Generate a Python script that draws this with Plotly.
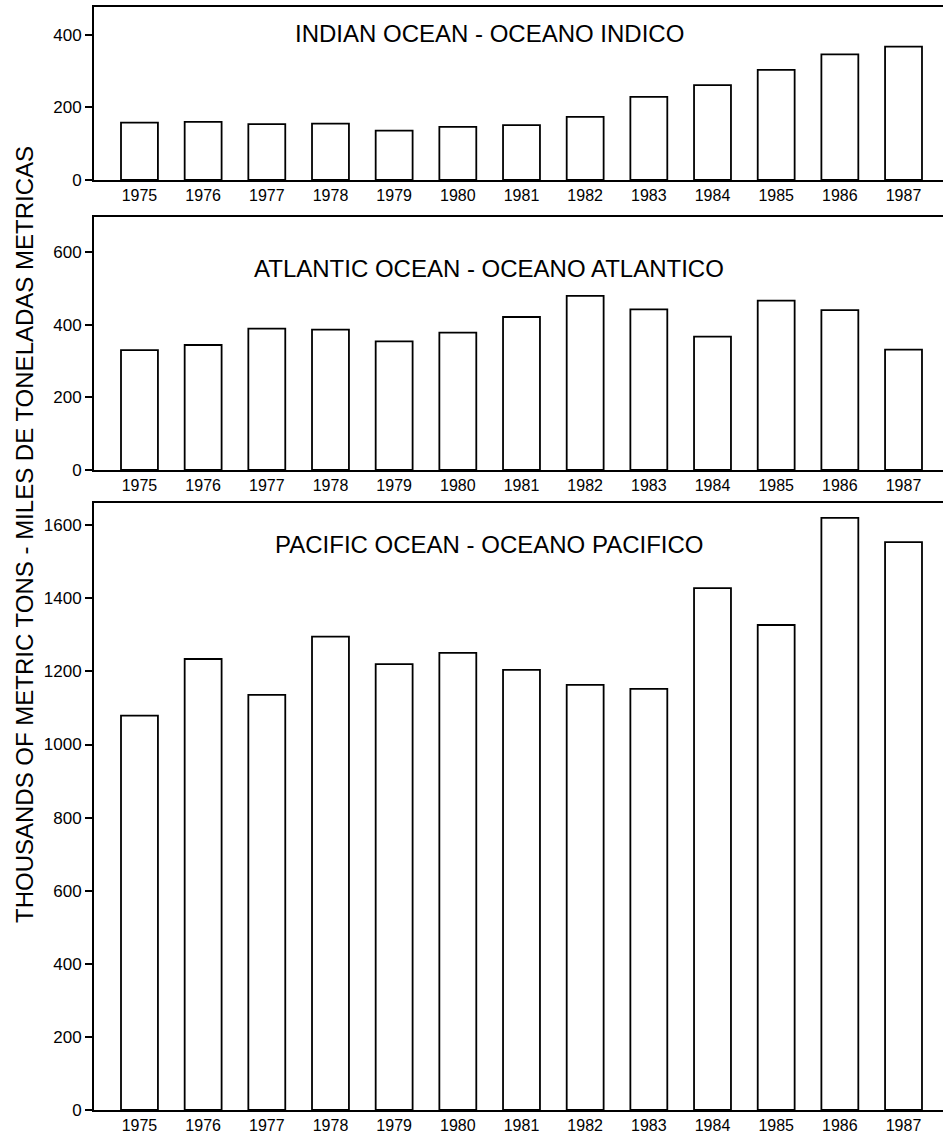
import plotly.graph_objects as go

years = ["1975", "1976", "1977", "1978", "1979", "1980", "1981",
         "1982", "1983", "1984", "1985", "1986", "1987"]
year_nums = [1975, 1976, 1977, 1978, 1979, 1980, 1981,
             1982, 1983, 1984, 1985, 1986, 1987]
indian = [158, 160, 154, 155, 136, 146, 151, 174, 229, 261, 303, 346, 367]
atlantic = [330, 344, 389, 386, 354, 378, 421, 479, 442, 367, 466, 440, 331]
pacific = [1079, 1234, 1136, 1295, 1220, 1251, 1204, 1163, 1152, 1428, 1327, 1620, 1554]

titles = ["INDIAN OCEAN - OCEANO INDICO",
          "ATLANTIC OCEAN - OCEANO ATLANTICO",
          "PACIFIC OCEAN - OCEANO PACIFICO"]
y_title = "THOUSANDS OF METRIC TONS - MILES DE TONELADAS METRICAS"

FONT = "Liberation Sans, Arial, Helvetica, sans-serif"
W, H = 943, 1133

fig = go.Figure()
series = [indian, atlantic, pacific]
for i, vals in enumerate(series):
    sfx = "" if i == 0 else str(i + 1)
    fig.add_trace(go.Bar(
        x=year_nums, y=vals,
        xaxis="x" + sfx, yaxis="y" + sfx,
        marker=dict(color="white", line=dict(color="black", width=1.8)),
        showlegend=False, hoverinfo="x+y",
    ))

# panel pixel extents (top, bottom) in figure coords
panels = [(6.7, 180.0, 477), (216.7, 470.0, 697), (503.3, 1110.0, 1660)]
yticks = [[0, 200, 400], [0, 200, 400, 600], [0, 200, 400, 600, 800, 1000, 1200, 1400, 1600]]

layout = dict(
    width=W, height=H,
    margin=dict(l=94, r=0, t=0, b=0),
    paper_bgcolor="white", plot_bgcolor="white",
    bargap=0.42,
    font=dict(family=FONT, color="black"),
)
for i, (ptop, pbot, ymax) in enumerate(panels):
    sfx = "" if i == 0 else str(i + 1)
    layout["xaxis" + sfx] = dict(
        domain=[0, 1], anchor="y" + sfx,
        range=[1974.286, 1987.62],
        tickmode="array", tickvals=year_nums, ticktext=years,
        ticks="", showline=True, linecolor="black", linewidth=2,
        mirror=True, showgrid=False, zeroline=False,
        tickfont=dict(size=16, family=FONT, color="black"),
        automargin=False, fixedrange=True,
    )
    layout["yaxis" + sfx] = dict(
        domain=[(H - pbot) / H, (H - ptop) / H], anchor="x" + sfx,
        range=[0, ymax],
        tickmode="array", tickvals=yticks[i],
        ticks="outside", ticklen=7, tickwidth=1.5, tickcolor="black",
        showline=True, linecolor="black", linewidth=2,
        showgrid=False, zeroline=False,
        tickfont=dict(size=17, family=FONT, color="black"),
        automargin=False, fixedrange=True,
    )

title_y = [34, 268.3, 545]
ann = []
for t, py in zip(titles, title_y):
    ann.append(dict(
        text=t, xref="paper", yref="paper",
        x=(489 - 94) / (W - 94), y=(H - py) / H,
        xanchor="center", yanchor="middle", showarrow=False,
        font=dict(size=24, family=FONT, color="black"),
    ))
ann.append(dict(
    text=y_title, xref="paper", yref="paper",
    x=(24 - 94) / (W - 94), y=(H - 535) / H,
    xanchor="center", yanchor="middle", showarrow=False, textangle=-90,
    font=dict(size=24, family=FONT, color="black"),
))
layout["annotations"] = ann

fig.update_layout(**layout)
fig.write_html(
    "out.html",
    config={"displayModeBar": False},
    post_script="document.body.style.margin='0';document.body.style.overflow='hidden';",
)
